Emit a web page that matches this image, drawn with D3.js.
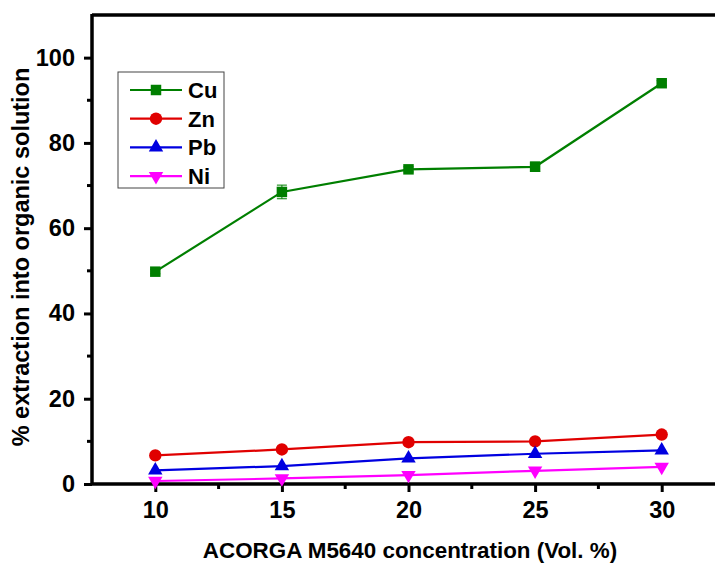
<!DOCTYPE html>
<html>
<head>
<meta charset="utf-8">
<script src="https://cdn.jsdelivr.net/npm/d3@7"></script>
<style>
  body { margin: 0; background: #fff; }
  svg { font-family: "Liberation Sans", Arial, sans-serif; font-weight: bold; }
</style>
</head>
<body>
<svg class="chart" width="715" height="564"></svg>
<script>
var conc = [10, 15, 20, 25, 30];
var cu = [49.8, 68.5, 73.8, 74.4, 94.0];
var cuErr = [0.5, 1.6, 0.6, 1.1, 0.6];
var zn = [6.7, 8.1, 9.8, 10.0, 11.6];
var pb = [3.2, 4.2, 6.0, 7.1, 7.9];
var ni = [0.7, 1.3, 2.1, 3.1, 4.0];
var xTicks = [10, 15, 20, 25, 30];
var yTicks = [0, 20, 40, 60, 80, 100];

var series = [
  { name: "Cu", values: cu, err: cuErr, color: "#007f00", shape: d3.symbolSquare, size: 110, rot: 0 },
  { name: "Zn", values: zn, err: null, color: "#e00000", shape: d3.symbolCircle, size: 120, rot: 0 },
  { name: "Pb", values: pb, err: null, color: "#0000e0", shape: d3.symbolTriangle, size: 90, rot: 0 },
  { name: "Ni", values: ni, err: null, color: "#ff00ff", shape: d3.symbolTriangle, size: 90, rot: 180 }
];

var vis = d3.select(".chart"),
    MARGINS = { top: 15, left: 92, bottom: 484 },
    xScale = d3.scaleLinear().domain([7.5, 32.5]).range([92, 725]),
    yScale = d3.scaleLinear().domain([0, 110]).range([484, 15]);

// frame (top line, right side is off the picture)
vis.append("line")
  .attr("x1", 92).attr("x2", 725)
  .attr("y1", 15).attr("y2", 15)
  .attr("stroke", "#000").attr("stroke-width", 3.5);

// minor ticks
vis.append("g").selectAll("line")
  .data([12.5, 17.5, 22.5, 27.5])
  .enter().append("line")
  .attr("x1", function(d) { return xScale(d); })
  .attr("x2", function(d) { return xScale(d); })
  .attr("y1", 484).attr("y2", 489)
  .attr("stroke", "#000").attr("stroke-width", 3);

vis.append("g").selectAll("line")
  .data([10, 30, 50, 70, 90])
  .enter().append("line")
  .attr("y1", function(d) { return yScale(d); })
  .attr("y2", function(d) { return yScale(d); })
  .attr("x1", 92).attr("x2", 87)
  .attr("stroke", "#000").attr("stroke-width", 3);

var xAxis = d3.axisBottom(xScale).tickValues(xTicks).tickSize(8).tickPadding(9).tickSizeOuter(0),
    yAxis = d3.axisLeft(yScale).tickValues(yTicks).tickSize(8).tickPadding(9).tickSizeOuter(0);

var gx = vis.append("g")
  .attr("transform", "translate(0," + MARGINS.bottom + ")")
  .call(xAxis);
var gy = vis.append("g")
  .attr("transform", "translate(" + MARGINS.left + ",0)")
  .call(yAxis);

[gx, gy].forEach(function(g) {
  g.select(".domain").attr("stroke-width", 3.5);
  g.selectAll(".tick line").attr("stroke-width", 3);
  g.selectAll("text").attr("font-size", 23.5).attr("font-family", "Liberation Sans, Arial, sans-serif").attr("font-weight", "bold").attr("fill", "#000");
});
gy.select(".domain").attr("d", "M0,485V14");
gx.select(".domain").attr("d", "M91,0H725");

// axis titles
vis.append("text")
  .attr("x", 410).attr("y", 558)
  .attr("text-anchor", "middle")
  .attr("font-size", 22.4)
  .text("ACORGA M5640 concentration (Vol. %)");

vis.append("text")
  .attr("transform", "translate(29,257) rotate(-90)")
  .attr("text-anchor", "middle")
  .attr("font-size", 23.5)
  .text("% extraction into organic solution");

// lines
var lineGen = d3.line()
  .x(function(d, i) { return xScale(conc[i]); })
  .y(function(d) { return yScale(d); });

series.forEach(function(s) {
  vis.append("path")
    .attr("d", lineGen(s.values))
    .attr("stroke", s.color)
    .attr("stroke-width", 2.2)
    .attr("fill", "none");

  if (s.err) {
    var eb = vis.append("g").attr("stroke", s.color).attr("stroke-width", 1);
    s.values.forEach(function(v, i) {
      var x = xScale(conc[i]);
      eb.append("line").attr("x1", x).attr("x2", x)
        .attr("y1", yScale(v - s.err[i])).attr("y2", yScale(v + s.err[i]));
      [v - s.err[i], v + s.err[i]].forEach(function(e) {
        eb.append("line").attr("x1", x - 5).attr("x2", x + 5)
          .attr("y1", yScale(e)).attr("y2", yScale(e));
      });
    });
  }

  vis.append("g").selectAll("path")
    .data(s.values)
    .enter().append("path")
    .attr("d", d3.symbol().type(s.shape).size(s.size))
    .attr("transform", function(d, i) {
      return "translate(" + xScale(conc[i]) + "," + yScale(d) + ") rotate(" + s.rot + ")";
    })
    .attr("fill", s.color);
});

// legend
var legend = vis.append("g").attr("transform", "translate(118,72)");
legend.append("rect")
  .attr("width", 106).attr("height", 116)
  .attr("fill", "#fff").attr("stroke", "#444").attr("stroke-width", 1);

series.forEach(function(s, i) {
  var y = 18 + i * 28.7;
  legend.append("line")
    .attr("x1", 12).attr("x2", 64).attr("y1", y).attr("y2", y)
    .attr("stroke", s.color).attr("stroke-width", 2.2);
  legend.append("path")
    .attr("d", d3.symbol().type(s.shape).size(s.size))
    .attr("transform", "translate(38," + y + ") rotate(" + s.rot + ")")
    .attr("fill", s.color);
  legend.append("text")
    .attr("x", 70).attr("y", y + 8)
    .attr("font-size", 22)
    .text(s.name);
});
</script>
</body>
</html>
